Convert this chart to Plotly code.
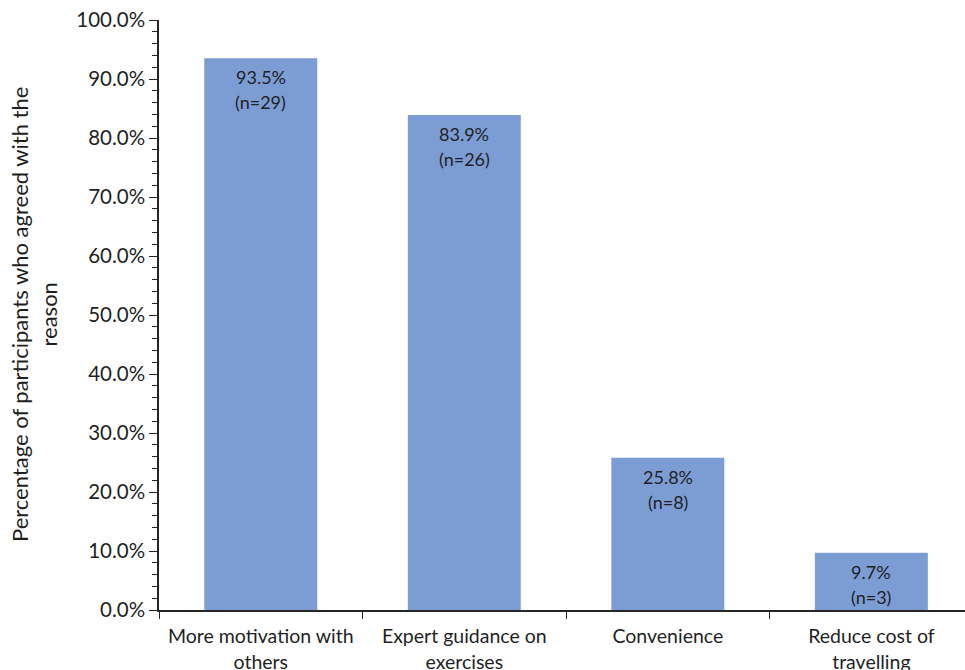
import plotly.graph_objects as go

categories = ["More motivation with<br>others", "Expert guidance on<br>exercises", "Convenience", "Reduce cost of<br>travelling"]
percentages = [93.5, 83.9, 25.8, 9.7]
counts = [29, 26, 8, 3]

FONT = "Lato, Carlito, Calibri, 'Open Sans', sans-serif"
TXT = "#1f1f1f"

fig = go.Figure(go.Bar(
    x=categories, y=percentages,
    marker=dict(color="#7B9DD4", line=dict(width=0)),
))

for c, p, n in zip(categories, percentages, counts):
    fig.add_annotation(x=c, y=p, text=f"{p:.1f}%", showarrow=False,
                       yanchor="middle", yshift=-19,
                       font=dict(family=FONT, size=18, color=TXT))
    fig.add_annotation(x=c, y=p, text=f"(n={n})", showarrow=False,
                       yanchor="middle", yshift=-44,
                       font=dict(family=FONT, size=18, color=TXT))

fig.update_layout(
    width=965, height=670,
    margin=dict(l=159, r=0, t=20, b=60),
    paper_bgcolor="white", plot_bgcolor="white",
    bargap=0.445,
    showlegend=False,
    font=dict(family=FONT, color=TXT),
)
fig.update_xaxes(
    type="category", range=[-0.5, 3.46], automargin=False,
    showline=True, linecolor="#262626", linewidth=1.5,
    ticks="outside", tickson="boundaries", ticklen=7, tickcolor="#262626",
    ticklabelstandoff=8,
    tickfont=dict(family=FONT, size=19.5, color=TXT),
    showgrid=False,
)
fig.update_yaxes(
    range=[0, 100], dtick=10, tickformat=".1f", ticksuffix="%",
    automargin=False,
    showline=True, linecolor="#262626", linewidth=1.5,
    ticks="outside", ticklen=8, tickcolor="#262626",
    minor=dict(dtick=2, ticks="outside", ticklen=5, tickcolor="#262626", showgrid=False),
    tickfont=dict(family=FONT, size=20.5, color=TXT),
    showgrid=False, zeroline=False,
)
fig.add_annotation(
    text="Percentage of participants who agreed with the<br>reason",
    xref="paper", yref="paper", x=0, y=0.5,
    xanchor="right", yanchor="middle", xshift=-95,
    textangle=-90, showarrow=False,
    font=dict(family=FONT, size=22, color=TXT),
)

fig.write_html("out.html")
